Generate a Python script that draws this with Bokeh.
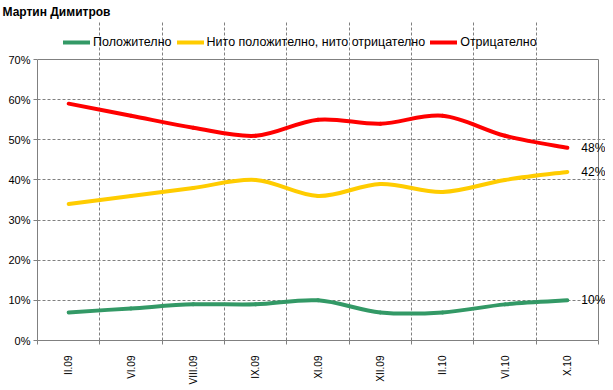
import math
from bokeh.plotting import figure
from bokeh.models import Range1d, FixedTicker, Legend, LegendItem, Label, ColumnDataSource
from bokeh.embed import file_html
from bokeh.resources import INLINE

title_text = "Мартин Димитров"
categories = ["II.09", "VI.09", "VIII.09", "IX.09", "XI.09", "XII.09", "II.10", "VI.10", "X.10"]
positive = [7, 8, 9, 9, 10, 7, 7, 9, 10]
neutral = [34, 36, 38, 40, 36, 39, 37, 40, 42]
negative = [59, 56, 53, 51, 55, 54, 56, 51, 48]
series_names = ["Положително", "Нито положително, нито отрицателно", "Отрицателно"]
colors = ["#339966", "#FFCC00", "#FF0000"]
y_ticks = [0, 10, 20, 30, 40, 50, 60, 70]

FONT = "Liberation Sans"
GRAY = "#808080"

# layout constants (pixels)
PLOT_W = 561      # width of the bordered plot area
PLOT_H = 281      # height of the bordered plot area
FRAME_W = 568     # frame extends right so end labels are not clipped
FRAME_H = 320     # frame extends up to hold the legend

n = len(categories)
ymax = y_ticks[-1]
xs = [i + 0.5 for i in range(n)]


def bezier_source(vals):
    d = {k: [] for k in ["x0", "y0", "x1", "y1", "cx0", "cy0", "cx1", "cy1"]}
    for i in range(n - 1):
        xm, ym = (xs[i - 1], vals[i - 1]) if i > 0 else (xs[i], vals[i])
        xp, yp = (xs[i + 2], vals[i + 2]) if i + 2 < n else (xs[i + 1], vals[i + 1])
        d["x0"].append(xs[i]); d["y0"].append(vals[i])
        d["x1"].append(xs[i + 1]); d["y1"].append(vals[i + 1])
        d["cx0"].append(xs[i] + (xs[i + 1] - xm) / 6); d["cy0"].append(vals[i] + (vals[i + 1] - ym) / 6)
        d["cx1"].append(xs[i + 1] - (xp - xs[i]) / 6); d["cy1"].append(vals[i + 1] - (yp - vals[i]) / 6)
    return ColumnDataSource(d)


p = figure(frame_width=FRAME_W, frame_height=FRAME_H,
           x_range=Range1d(0, n * FRAME_W / PLOT_W), y_range=Range1d(0, ymax * FRAME_H / PLOT_H),
           output_backend="svg", toolbar_location=None,
           min_border_left=37, min_border_right=0, min_border_top=0, min_border_bottom=0)
p.background_fill_color = "white"
p.border_fill_color = "white"
p.outline_line_color = None

p.title.text = title_text
p.title.text_font = FONT
p.title.text_font_size = "12px"
p.title.text_font_style = "bold"
p.title.text_color = "black"
p.title.offset = -35
p.title.standoff = 4

# x axis
p.xaxis.ticker = FixedTicker(ticks=xs, minor_ticks=list(range(n + 1)))
p.xaxis.bounds = (0, n)
p.xaxis.major_label_overrides = {x: c for x, c in zip(xs, categories)}
p.xaxis.major_label_orientation = math.pi / 2
p.xaxis.major_tick_out = 0
p.xaxis.major_tick_in = 0
p.xaxis.minor_tick_out = 4
p.xaxis.minor_tick_in = 0
p.xaxis.minor_tick_line_color = GRAY
p.xaxis.axis_line_color = GRAY
p.xaxis.major_label_standoff = 11
p.xaxis.major_label_text_font = FONT
p.xaxis.major_label_text_font_size = "10px"
p.xaxis.major_label_text_color = "black"

# y axis
p.yaxis.ticker = FixedTicker(ticks=y_ticks)
p.yaxis.bounds = (0, ymax)
p.yaxis.major_label_overrides = {v: f"{v}%" for v in y_ticks}
p.yaxis.major_tick_out = 4
p.yaxis.major_tick_in = 0
p.yaxis.minor_tick_line_color = None
p.yaxis.major_tick_line_color = GRAY
p.yaxis.axis_line_color = GRAY
p.yaxis.major_label_standoff = 3
p.yaxis.major_label_text_font = FONT
p.yaxis.major_label_text_font_size = "11px"
p.yaxis.major_label_text_color = "black"

# grids
p.xgrid.ticker = FixedTicker(ticks=list(range(1, n)))
p.xgrid.bounds = (0, ymax)
p.ygrid.ticker = FixedTicker(ticks=y_ticks[1:-1])
p.ygrid.bounds = (0, n)
for g in (p.xgrid, p.ygrid):
    g.grid_line_color = GRAY
    g.grid_line_dash = "3 2"
    g.grid_line_width = 1

# top and right border of the plot area
p.segment(x0=[0, n], y0=[ymax, 0], x1=[n, n], y1=[ymax, ymax], line_color=GRAY, line_width=1)

renderers = []
for vals, color in zip([positive, neutral, negative], colors):
    src = bezier_source(vals)
    r = p.bezier(x0="x0", y0="y0", x1="x1", y1="y1", cx0="cx0", cy0="cy0", cx1="cx1", cy1="cy1",
                 source=src, line_color=color, line_width=4, line_cap="round")
    renderers.append(r)
    p.add_layout(Label(x=xs[-1], y=vals[-1], text=f"{vals[-1]}%", x_offset=14,
                       text_baseline="middle", text_font=FONT, text_font_size="12px",
                       text_color="black"))

legend = Legend(items=[LegendItem(label=nm, renderers=[r]) for nm, r in zip(series_names, renderers)],
                orientation="horizontal", location=(26, 290), margin=0, padding=2, spacing=5,
                glyph_width=27, glyph_height=16, label_standoff=3,
                label_text_font=FONT, label_text_font_size="12.5px", label_text_color="black",
                border_line_color=None, background_fill_alpha=0)
p.add_layout(legend, "center")

open("out.html", "w").write(file_html(p, INLINE))
